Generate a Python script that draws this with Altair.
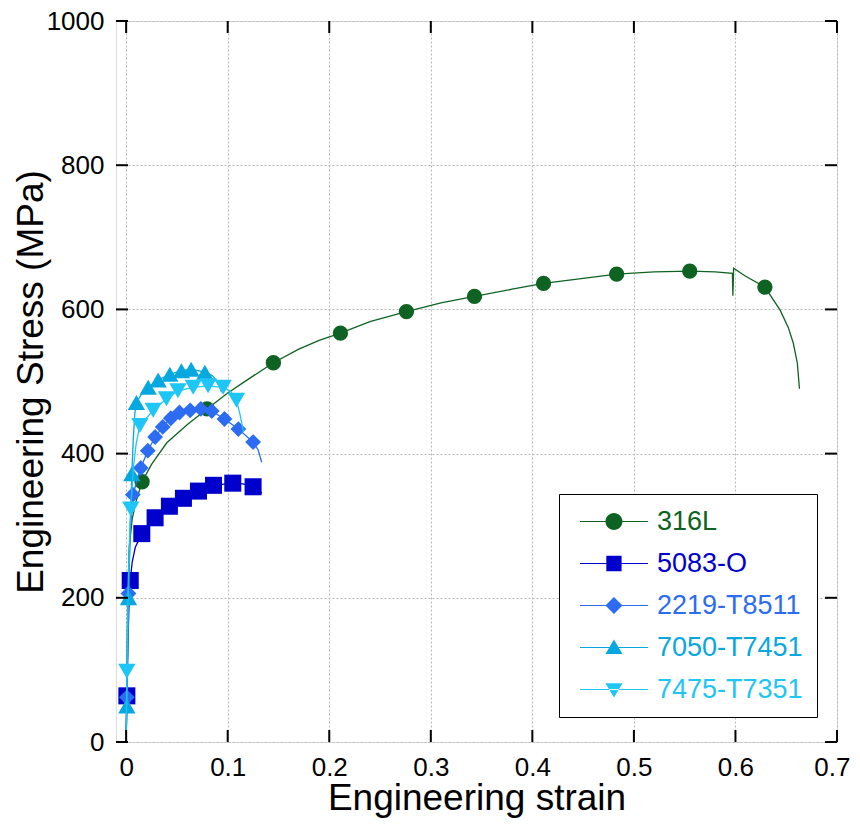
import altair as alt
import pandas as pd

SERIES = ["316L", "5083-O", "2219-T8511", "7050-T7451", "7475-T7351"]
COLORS = ["#0e6322", "#0000cc", "#2b6cf2", "#07a8e0", "#1ec6f5"]
SHAPES = ["circle", "square", "diamond", "triangle-up", "triangle-down"]
SIZES = [235, 290, 250, 300, 300]

# ---- full curves (strain, stress MPa) ----
c316_x = [0, 0.0015, 0.003, 0.006, 0.010, 0.0157, 0.025, 0.040, 0.060, 0.0797, 0.100, 0.120, 0.145,
          0.170, 0.190, 0.211, 0.240, 0.276, 0.310, 0.343, 0.380, 0.411, 0.450, 0.483, 0.520,
          0.555, 0.580, 0.5970, 0.5975, 0.5982, 0.610, 0.629, 0.644, 0.652, 0.657, 0.661, 0.663]
c316_y = [0, 200, 270, 310, 335, 361, 385, 415, 440, 462, 484, 503, 526,
          545, 557, 567, 583, 597, 609, 618, 628, 636, 643, 649, 652,
          653, 652, 650, 619, 657, 646, 631, 599, 575, 553, 525, 490]

c5083_x = [0, 0.0007, 0.002, 0.003, 0.004, 0.006, 0.009, 0.0154, 0.0285, 0.0426, 0.0564,
           0.0712, 0.086, 0.105, 0.115, 0.125, 0.130, 0.1335]
c5083_y = [0, 64, 150, 200, 224, 250, 270, 289, 311, 327, 338,
           348, 356, 359, 358, 354, 352, 345]

c2219_x = [0, 0.0007, 0.0023, 0.004, 0.0066, 0.0144, 0.0213, 0.0285, 0.036, 0.044, 0.0525,
           0.063, 0.0735, 0.0843, 0.0968, 0.1105, 0.125, 0.130, 0.1335]
c2219_y = [0, 62, 206, 290, 343, 380, 404, 423, 437, 449, 457,
           460, 462, 459, 448, 434, 416, 405, 388]

c7050_x = [0, 0.0007, 0.0023, 0.004, 0.0056, 0.007, 0.0085, 0.0101, 0.015, 0.0217, 0.0315,
           0.043, 0.0544, 0.064, 0.0775, 0.085, 0.090, 0.094]
c7050_y = [0, 50, 200, 300, 372, 420, 455, 471, 482, 492, 502,
           510, 515, 517, 513, 508, 500, 485]

c7475_x = [0, 0.0007, 0.002, 0.0035, 0.0046, 0.007, 0.010, 0.0135, 0.0266, 0.0397, 0.051,
           0.066, 0.0807, 0.0955, 0.103, 0.1086, 0.112, 0.1155]
c7475_y = [0, 98, 220, 290, 323, 380, 415, 439, 460, 476, 487,
           492, 494, 492, 486, 474, 455, 430]

# ---- marker positions ----
m316_x = [0.0157, 0.0797, 0.145, 0.211, 0.276, 0.343, 0.411, 0.483, 0.555, 0.629]
m316_y = [361, 462, 526, 567, 597, 618, 636, 649, 653, 631]

m5083_x = [0.0007, 0.004, 0.0154, 0.0285, 0.0426, 0.0564, 0.0712, 0.086, 0.105, 0.125]
m5083_y = [64, 224, 289, 311, 327, 338, 348, 356, 359, 354]

m2219_x = [0.0007, 0.0023, 0.0066, 0.0144, 0.0213, 0.0285, 0.036, 0.044, 0.0525, 0.063,
           0.0735, 0.0843, 0.0968, 0.1105, 0.125]
m2219_y = [62, 206, 343, 380, 404, 423, 437, 449, 457, 460, 462, 459, 448, 434, 416]

m7050_x = [0.0007, 0.0023, 0.0056, 0.0101, 0.0217, 0.0315, 0.043, 0.0544, 0.064, 0.0775]
m7050_y = [50, 200, 372, 471, 492, 502, 510, 515, 517, 513]

m7475_x = [0.0007, 0.0046, 0.0135, 0.0266, 0.0397, 0.051, 0.066, 0.0807, 0.0955, 0.1086]
m7475_y = [98, 323, 439, 460, 476, 487, 492, 494, 492, 474]

X_TICKS = [0, 0.1, 0.2, 0.3, 0.4, 0.5, 0.6, 0.7]
Y_TICKS = [0, 200, 400, 600, 800, 1000]

curves = [(c316_x, c316_y), (c5083_x, c5083_y), (c2219_x, c2219_y), (c7050_x, c7050_y), (c7475_x, c7475_y)]
marks = [(m316_x, m316_y), (m5083_x, m5083_y), (m2219_x, m2219_y), (m7050_x, m7050_y), (m7475_x, m7475_y)]

rows = []
for s, (xs, ys) in zip(SERIES, curves):
    for i, (a, b) in enumerate(zip(xs, ys)):
        rows.append({"series": s, "strain": a, "stress": b, "idx": i})
curve_df = pd.DataFrame(rows)
rows = []
for s, (xs, ys) in zip(SERIES, marks):
    for a, b in zip(xs, ys):
        rows.append({"series": s, "strain": a, "stress": b})
mark_df = pd.DataFrame(rows)

W = 721
H = 721
FONT = "Liberation Sans"
GRID = "#b8b8b8"

xscale = alt.Scale(domain=[-0.01, 0.7], nice=False, zero=False)
yscale = alt.Scale(domain=[0, 1000], nice=False)

xaxis = alt.Axis(title="Engineering strain", values=X_TICKS, format="~g", ticks=False, domain=False,
                 labelFlush=1, labelFlushOffset=13, labelPadding=12, labelFontSize=26, titleFontSize=37,
                 titleFontWeight="normal", titleBaseline="alphabetic", titleY=67,
                 gridDash=[2, 2], gridColor=GRID, gridWidth=1, labelColor="black", titleColor="black")
yaxis = alt.Axis(title="Engineering Stress (MPa)", values=Y_TICKS, format="d", ticks=False, domain=False,
                 labelFlush=False, labelPadding=12, labelFontSize=26, titleFontSize=37,
                 titleFontWeight="normal", titleBaseline="alphabetic", titleX=-74, titleY=H / 2,
                 gridDash=[2, 2], gridColor=GRID, gridWidth=1, labelColor="black", titleColor="black")

# legend symbols: a thin line with the marker on it (unit = half nominal symbol width)
LINE = "M-0.77,-0.07H7.23V0.07H-0.77Z"
PATHS = [
    LINE + "M4.23,0A1,1,0,1,1,2.23,0A1,1,0,1,1,4.23,0Z",
    LINE + "M2.33,-0.9H4.13V0.9H2.33Z",
    LINE + "M3.23,-1L4.23,0L3.23,1L2.23,0Z",
    LINE + "M3.23,-0.95L4.23,0.75H2.23Z",
    LINE + "M3.23,0.95L4.23,-0.75H2.23Z",
]

leg = alt.Legend(title=None, orient="none", legendX=443, legendY=473, labelFontSize=27, labelFont=FONT,
                 labelColor=alt.ExprRef("scale('color', datum.value)"), symbolSize=289,
                 symbolStrokeWidth=0, symbolOpacity=1, labelOffset=57, rowPadding=14, padding=14,
                 strokeColor="black", fillColor="white")

legend_layer = alt.Chart(mark_df).mark_point(filled=True, opacity=0).encode(
    x=alt.X("strain:Q", scale=xscale, axis=xaxis),
    y=alt.Y("stress:Q", scale=yscale, axis=yaxis),
    color=alt.Color("series:N", scale=alt.Scale(domain=SERIES, range=COLORS), legend=leg),
    shape=alt.Shape("series:N", scale=alt.Scale(domain=SERIES, range=PATHS), legend=leg),
)

layers = [legend_layer]
for s, col, shp, sz in zip(SERIES, COLORS, SHAPES, SIZES):
    line = alt.Chart(curve_df).transform_filter(alt.datum.series == s).mark_line(
        color=col, strokeWidth=1.3).encode(
        x="strain:Q", y="stress:Q", order="idx:Q")
    pts = alt.Chart(mark_df).transform_filter(alt.datum.series == s).mark_point(
        shape=shp, filled=True, size=sz, color=col, opacity=1, strokeWidth=0).encode(
        x="strain:Q", y="stress:Q")
    layers += [line, pts]

xt = pd.DataFrame({"v": X_TICKS})
yt = pd.DataFrame({"v": Y_TICKS})
tick_bottom = alt.Chart(xt).mark_rule(color="black", strokeWidth=2).encode(
    x="v:Q", y=alt.value(H), y2=alt.value(H - 12))
tick_top = alt.Chart(xt).mark_rule(color="black", strokeWidth=2).encode(
    x="v:Q", y=alt.value(0), y2=alt.value(12))
tick_left = alt.Chart(yt).mark_rule(color="black", strokeWidth=2).encode(
    y="v:Q", x=alt.value(0), x2=alt.value(12))
tick_right = alt.Chart(yt).mark_rule(color="black", strokeWidth=2).encode(
    y="v:Q", x=alt.value(W), x2=alt.value(W - 12))
layers += [tick_bottom, tick_top, tick_left, tick_right]

chart = alt.layer(*layers).properties(
    width=W, height=H,
    autosize=alt.AutoSizeParams(type="none"),
    padding={"left": 108, "top": 13, "right": 14, "bottom": 76},
).configure_view(stroke="black", strokeWidth=2).configure_legend(
    strokeWidth=2, cornerRadius=0).configure(font=FONT)

chart.save("out.html", embed_options={"renderer": "svg", "actions": False})
